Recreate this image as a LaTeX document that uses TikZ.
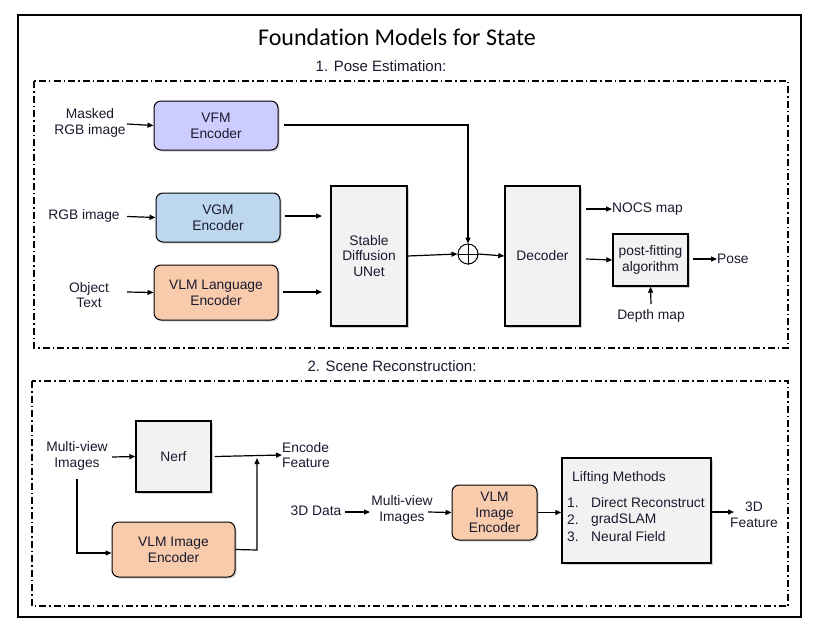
\documentclass[tikz,border=0pt]{standalone}
\usepackage{fontspec}
\setmainfont{Liberation Sans}
\newfontfamily\titlefont[Ligatures={NoCommon}]{Carlito}
\usetikzlibrary{arrows.meta,shadows,positioning}
\definecolor{vfm}{HTML}{CCCCFF}
\definecolor{vgm}{HTML}{BDD7EE}
\definecolor{vlm}{HTML}{F8CBAD}
\definecolor{gbox}{HTML}{F2F2F2}
\definecolor{txt}{HTML}{1A1A2E}
\begin{document}
\begin{tikzpicture}[x=1pt,y=-1pt,
  every node/.style={font=\fontsize{13.8}{15.8}\selectfont, text=txt},
  lbl/.style={align=center, inner sep=0pt},
  rbox/.style={draw, line width=1pt, rounded corners=7pt, align=center, drop shadow={shadow xshift=1.5pt, shadow yshift=-1.5pt, opacity=0.35}},
  sbox/.style={draw, line width=1.4pt, fill=gbox, align=center, drop shadow={shadow xshift=1.5pt, shadow yshift=-1.5pt, opacity=0.35}},
  arr/.style={-{Triangle[length=6pt,width=5pt]}, line width=1.2pt},
  ln/.style={line width=1.2pt},
  dd/.style={line width=1.2pt, dash pattern=on 7pt off 3pt on 1.5pt off 3pt}
]
\useasboundingbox (0,0) rectangle (832,627);
\fill[white] (0,0) rectangle (832,627);
\draw[line width=1.2pt] (18,15) rectangle (801,617);

\node[font=\titlefont\fontsize{24}{27}\selectfont, text=black] (title) at (397,37) {Foundation Models for State};
\node[font=\fontsize{15}{17}\selectfont] (sec1) at (381,66) {1. Pose Estimation:};
\draw[dd] (34,81) rectangle (788,348);

% Pose estimation
\node[rbox, fill=vfm, minimum width=124pt, minimum height=49pt] (vfm) at (216,125.5) {VFM\\Encoder};
\node[rbox, fill=vgm, minimum width=124pt, minimum height=49pt] (vgm) at (218,217.5) {VGM\\Encoder};
\node[rbox, fill=vlm, minimum width=124pt, minimum height=55pt] (vlml) at (216,292.5) {VLM Language\\Encoder};
\node[lbl] (in1) at (90,123) {Masked\\RGB image};
\node[lbl] (in2) at (84,216) {RGB image};
\node[lbl] (in3) at (89,295) {Object\\Text};
\draw[arr] (127,124) -- (vfm.west);
\draw[arr] (127,216.5) -- (vgm.west);
\draw[arr] (127,292) -- (vlml.west);

\node[sbox, minimum width=76pt, minimum height=140pt] (sd) at (369,256) {Stable\\Diffusion\\UNet};
\draw[arr] (vgm.east)++(4,-1.5) -- (322,216);
\draw[arr] (vlml.east)++(4,-0.5) -- (322,292);

\node[circle, draw, line width=1pt, minimum size=20pt, inner sep=0pt] (plus) at (468,254) {};
\draw[line width=1pt] (plus.north) -- (plus.south) (plus.west) -- (plus.east);
\draw[arr] (sd.east) -- (plus.west);
\coordinate (c1) at (468,125);
\draw[arr] (vfm.east)++(5,-0.5) -- (c1) -- (plus.north);

\node[sbox, minimum width=75pt, minimum height=140pt] (dec) at (542.5,256) {Decoder};
\draw[arr] (plus.east) -- (dec.west);

\node[sbox, minimum width=75pt, minimum height=52pt] (pf) at (650.5,260) {post-fitting\\algorithm};
\node[anchor=west, inner sep=0pt] (nocs) at (612,209) {NOCS map};
\draw[arr] (586,209) -- (nocs.west);
\draw[arr] (586,259) -- (pf.west);
\node[anchor=west, inner sep=0pt] (pose) at (717,259) {Pose};
\draw[arr] (pf.east)++(4,-1) -- (pose.west);
\node[lbl] (depth) at (651,316) {Depth map};
\draw[arr] (651,304) -- (pf.south);

% Scene reconstruction
\node[font=\fontsize{15}{17}\selectfont] (sec2) at (392,366) {2. Scene Reconstruction:};
\draw[dd] (32,381) rectangle (788,606);

\node[lbl] (mv1) at (77,456) {Multi-view\\Images};
\node[sbox, minimum width=75pt, minimum height=71pt] (nerf) at (173.5,456.5) {Nerf};
\draw[arr] (112,457) -- (nerf.west);
\node[anchor=west, lbl, align=left] (ef) at (282,455) {Encode\\Feature};
\draw[arr] (nerf.east)++(3,0) -- (ef.west);
\node[rbox, fill=vlm, minimum width=123pt, minimum height=55pt] (vlmi) at (173.5,549.5) {VLM Image\\Encoder};
\coordinate (c2) at (77,553);
\draw[arr] (77,479) -- (c2) -- (vlmi.west |- c2);
\coordinate (c3) at (257,550);
\draw[arr] (vlmi.east) -- (c3) -- (257,458);

\node[lbl] (d3) at (316,511) {3D Data};
\node[lbl] (mv2) at (402,510) {Multi-view\\Images};
\draw[arr] (345,512) -- (370,512);
\node[rbox, fill=vlm, minimum width=85pt, minimum height=55pt, inner sep=1pt] (vlmi2) at (494.5,512.5) {VLM\\Image\\Encoder};
\draw[arr] (428,512) -- (vlmi2.west);

\node[sbox, minimum width=149pt, minimum height=105pt] (lift) at (636.5,510.5) {};
\node[lbl] (lt) at (619,478) {Lifting Methods};
\node[anchor=west, inner sep=0pt] (l1n) at (567,503) {1.};
\node[anchor=west, inner sep=0pt] (l1) at (591,503) {Direct Reconstruct};
\node[anchor=west, inner sep=0pt] (l2n) at (567,520) {2.};
\node[anchor=west, inner sep=0pt] (l2) at (591,520) {gradSLAM};
\node[anchor=west, inner sep=0pt] (l3n) at (567,537) {3.};
\node[anchor=west, inner sep=0pt] (l3) at (591,537) {Neural Field};
\draw[arr] (vlmi2.east) -- (lift.west |- vlmi2.east);
\node[lbl] (f3d) at (754,515) {3D\\Feature};
\draw[arr] (lift.east |- 0,512) -- (734,512);
\end{tikzpicture}
\end{document}
